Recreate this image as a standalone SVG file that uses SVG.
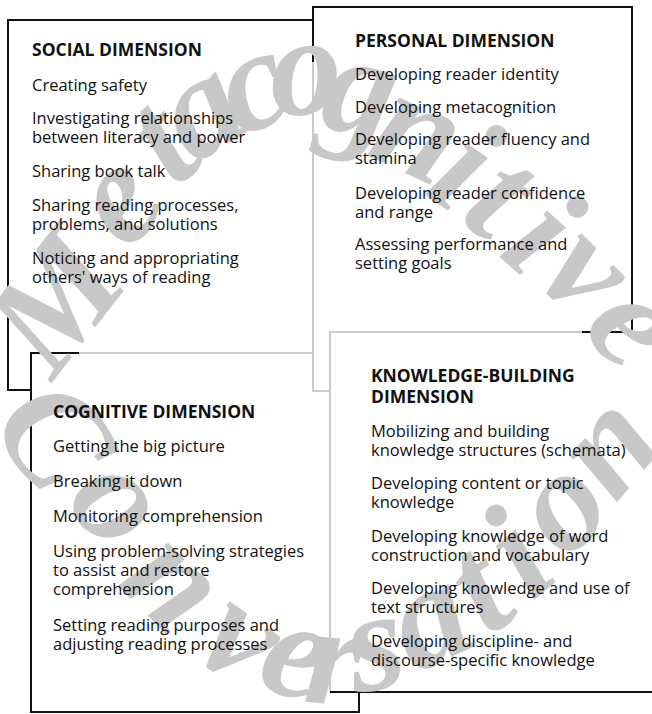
<svg xmlns="http://www.w3.org/2000/svg" width="652" height="714" viewBox="0 0 652 714">
  <style>
    .frame { fill: none; stroke: #111; stroke-width: 2; }
    .faint { fill: none; stroke: #cacaca; stroke-width: 2; }
    .head { font-family: "Open Sans", "Noto Sans", sans-serif; font-weight: 700; font-size: 17.5px; fill: #111; }
    .item { font-family: "Open Sans", "Noto Sans", sans-serif; font-size: 16.5px; fill: #111; }
    .wm { font-family: "Liberation Serif", "DejaVu Serif", serif; font-weight: 700; font-style: italic; font-size: 144px; fill: #c8c8c8; text-anchor: middle; }
  </style>
  <rect width="652" height="714" fill="#fff"/>

  <!-- box outlines; the pale runs are the edges that sit behind other boxes -->
  <g id="frames">
    <path class="faint" d="M313,62 V391 H330"/>
    <path class="faint" d="M79,353 H313"/>
    <path class="faint" d="M330,692 V332 H652"/>
    <path id="social-frame" class="frame" d="M31,390 H8 V20 H313"/>
    <path id="personal-frame" class="frame" d="M313,62 V7 H632 V332 H582"/>
    <path id="cognitive-frame" class="frame" d="M79,353 H31 V712 H359 V692"/>
    <path id="knowledge-frame" class="frame" d="M330,692 H652"/>
  </g>

  <!-- large arched background words, one glyph per position -->
  <g id="watermark">
    <g id="word-top">
      <text class="wm" transform="translate(54,302) rotate(-52)" y="48">M</text>
      <text class="wm" transform="translate(124,206) rotate(-48)" y="34">e</text>
      <text class="wm" transform="translate(168,150) rotate(-42)" y="34">t</text>
      <text class="wm" transform="translate(206,117) rotate(-32)" y="34">a</text>
      <text class="wm" transform="translate(256,94) rotate(-20)" y="34">c</text>
      <text class="wm" transform="translate(306,80) rotate(-4)" y="34">o</text>
      <text class="wm" transform="translate(359,100) rotate(12)" y="34">g</text>
      <text class="wm" transform="translate(415,140) rotate(25)" y="34">n</text>
      <text class="wm" transform="translate(458,176) rotate(35)" y="34">i</text>
      <text class="wm" transform="translate(494,204) rotate(38)" y="34">t</text>
      <text class="wm" transform="translate(534,242) rotate(42)" y="34">i</text>
      <text class="wm" transform="translate(580,277) rotate(45)" y="34">v</text>
      <text class="wm" transform="translate(627,331) rotate(52)" y="34">e</text>
    </g>
    <g id="word-bottom">
      <text class="wm" transform="translate(55,435) rotate(55)" y="48">C</text>
      <text class="wm" transform="translate(112,507) rotate(50)" y="34">o</text>
      <text class="wm" transform="translate(168,588) rotate(45)" y="34">n</text>
      <text class="wm" transform="translate(236,645) rotate(35)" y="34">v</text>
      <text class="wm" transform="translate(295,663) rotate(20)" y="34">e</text>
      <text class="wm" transform="translate(333,670) rotate(5)" y="34">r</text>
      <text class="wm" transform="translate(377,655) rotate(-10)" y="34">s</text>
      <text class="wm" transform="translate(433,628) rotate(-25)" y="34">a</text>
      <text class="wm" transform="translate(485,598) rotate(-35)" y="34">t</text>
      <text class="wm" transform="translate(525,563) rotate(-40)" y="34">i</text>
      <text class="wm" transform="translate(568,512) rotate(-45)" y="34">o</text>
      <text class="wm" transform="translate(615,452) rotate(-50)" y="34">n</text>
    </g>
  </g>

  <g id="social">
    <text class="head" x="32" y="56">SOCIAL DIMENSION</text>
    <text class="item" x="32" y="91">Creating safety</text>
    <text class="item" x="32" y="124">Investigating relationships</text>
    <text class="item" x="32" y="143">between literacy and power</text>
    <text class="item" x="32" y="177">Sharing book talk</text>
    <text class="item" x="32" y="211">Sharing reading processes,</text>
    <text class="item" x="32" y="230">problems, and solutions</text>
    <text class="item" x="32" y="264">Noticing and appropriating</text>
    <text class="item" x="32" y="283">others' ways of reading</text>
  </g>

  <g id="personal">
    <text class="head" x="355" y="47">PERSONAL DIMENSION</text>
    <text class="item" x="355" y="80">Developing reader identity</text>
    <text class="item" x="355" y="113">Developing metacognition</text>
    <text class="item" x="355" y="145">Developing reader fluency and</text>
    <text class="item" x="355" y="164">stamina</text>
    <text class="item" x="355" y="199">Developing reader confidence</text>
    <text class="item" x="355" y="218">and range</text>
    <text class="item" x="355" y="250">Assessing performance and</text>
    <text class="item" x="355" y="269">setting goals</text>
  </g>

  <g id="cognitive">
    <text class="head" x="53" y="418">COGNITIVE DIMENSION</text>
    <text class="item" x="53" y="452">Getting the big picture</text>
    <text class="item" x="53" y="487">Breaking it down</text>
    <text class="item" x="53" y="522">Monitoring comprehension</text>
    <text class="item" x="53" y="557">Using problem-solving strategies</text>
    <text class="item" x="53" y="576">to assist and restore</text>
    <text class="item" x="53" y="595">comprehension</text>
    <text class="item" x="53" y="631">Setting reading purposes and</text>
    <text class="item" x="53" y="650">adjusting reading processes</text>
  </g>

  <g id="knowledge">
    <text class="head" x="371" y="382">KNOWLEDGE-BUILDING</text>
    <text class="head" x="371" y="403">DIMENSION</text>
    <text class="item" x="371" y="437">Mobilizing and building</text>
    <text class="item" x="371" y="456">knowledge structures (schemata)</text>
    <text class="item" x="371" y="489">Developing content or topic</text>
    <text class="item" x="371" y="508">knowledge</text>
    <text class="item" x="371" y="542">Developing knowledge of word</text>
    <text class="item" x="371" y="561">construction and vocabulary</text>
    <text class="item" x="371" y="594">Developing knowledge and use of</text>
    <text class="item" x="371" y="613">text structures</text>
    <text class="item" x="371" y="647">Developing discipline- and</text>
    <text class="item" x="371" y="666">discourse-specific knowledge</text>
  </g>
</svg>
